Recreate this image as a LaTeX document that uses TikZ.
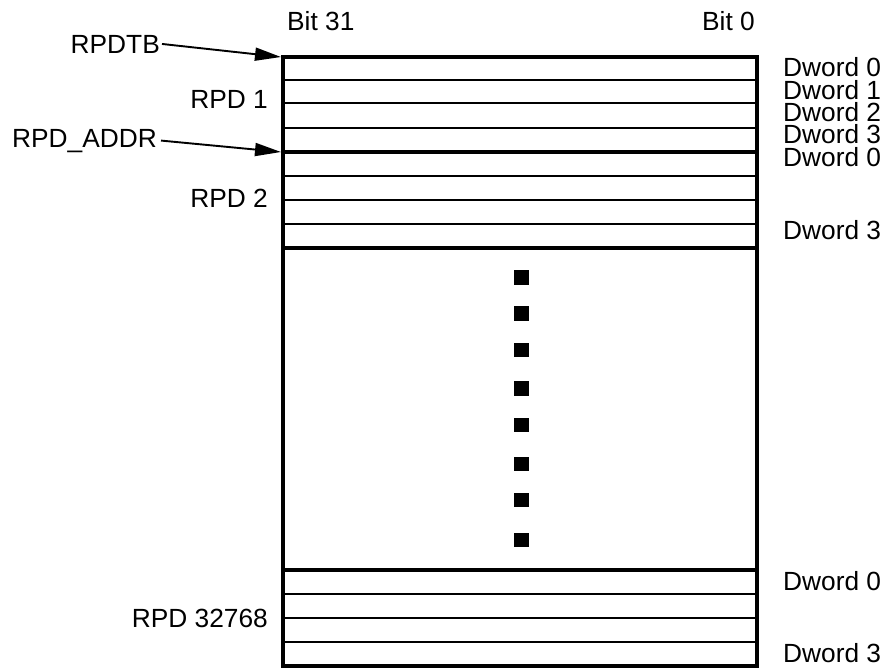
\documentclass[tikz,border=0pt]{standalone}
\usepackage{fontspec}
\setmainfont{Liberation Sans}
\usetikzlibrary{arrows.meta}
\begin{document}
\begin{tikzpicture}[x=1pt,y=-1pt,
  lbl/.style={font=\fontsize{26.3}{27}\selectfont, inner sep=0pt},
  thickline/.style={line width=4.4pt},
  thinline/.style={line width=1.9pt},
  dotsq/.style={fill=black, minimum size=14.5pt, inner sep=0pt, draw=none},
  ptr/.style={line width=1.9pt, -{Triangle[length=26pt,width=13pt]}}]
\useasboundingbox (0,0) rectangle (886,667);
% rows
\foreach \y in {80,103,128,176,200,224,594,618,642}
  \draw[thinline] (283,\y) -- (757,\y);
\foreach \y in {57,152,248,570,666}
  \draw[thickline] (281,\y) -- (759,\y);
\draw[thickline] (283,55) -- (283,668);
\draw[thickline] (757,55) -- (757,668);
% dots
\foreach[count=\i] \y in {277.5,313.5,350.2,388.5,425.2,464.2,500.2,539.8}
  \node[dotsq] (dot\i) at (521.5,\y) {};
% top labels
\node[lbl, anchor=base west] (bit31) at (287,30) {Bit 31};
\node[lbl, anchor=base east] (bit0) at (755,30) {Bit 0};
% left labels
\node[lbl, anchor=base east] (rpdtb) at (160,53) {RPDTB};
\node[lbl, anchor=base east] (rpdaddr) at (157,147) {RPD\_ADDR};
\node[lbl, anchor=base east] (rpd1) at (268,108) {RPD 1};
\node[lbl, anchor=base east] (rpd2) at (268,207) {RPD 2};
\node[lbl, anchor=base east] (rpdlast) at (268,627) {RPD 32768};
% pointer targets
\coordinate (tbtop) at (281,57);
\coordinate (addrtop) at (281,152);
\draw[ptr] ([xshift=2pt]rpdtb.east) -- (tbtop);
\draw[ptr] ([xshift=4pt]rpdaddr.east) -- (addrtop);
% right labels
\node[lbl, anchor=base west] (d10) at (783,76) {Dword 0};
\node[lbl, anchor=base west] (d11) at (783,99) {Dword 1};
\node[lbl, anchor=base west] (d12) at (783,121) {Dword 2};
\node[lbl, anchor=base west] (d13) at (783,143) {Dword 3};
\node[lbl, anchor=base west] (d20) at (783,166) {Dword 0};
\node[lbl, anchor=base west] (d23) at (783,239) {Dword 3};
\node[lbl, anchor=base west] (dn0) at (783,590) {Dword 0};
\node[lbl, anchor=base west] (dn3) at (783,662) {Dword 3};
\end{tikzpicture}
\end{document}
